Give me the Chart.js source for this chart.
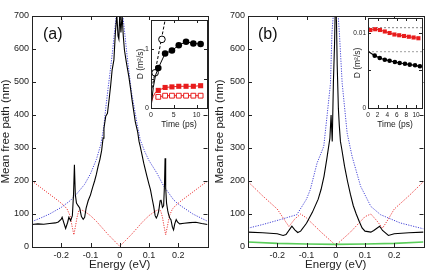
<!DOCTYPE html>
<html lang="en">
  <head>
    <meta charset="UTF-8" />
    <title>Mean free path</title>
    <script src="https://cdn.jsdelivr.net/npm/chart.js@4.4.1/dist/chart.umd.min.js"></script>
    <style>
      body {
        margin: 0;
        background: #fff;
      }

      #wrap {
        position: relative;
        width: 428px;
        height: 274px;
        overflow: hidden;
      }

      canvas {
        position: absolute;
      }

      .tag {
        position: absolute;
        font: 16px "Liberation Sans", Arial, sans-serif;
        color: #111;
      }
    </style>
  </head>

  <body>
    <div id="wrap">
      <canvas id="mainA" width="214" height="274" style="left: 0; top: 0"></canvas>
      <canvas id="mainB" width="214" height="274" style="left: 214px; top: 0"></canvas>
      <canvas id="insetA" width="88" height="122" style="left: 126px; top: 10px"></canvas>
      <canvas id="insetB" width="82" height="124" style="left: 346px; top: 8px"></canvas>
      <div class="tag" style="left: 43px; top: 25px">(a)</div>
      <div class="tag" style="left: 258px; top: 25px">(b)</div>
    </div>

    <script>
      // ---- axes ----
      const energyTicks = [-0.2, -0.1, 0, 0.1, 0.2];
      const energyLabels = ["-0.2", "-0.1", "0", "0.1", "0.2"];
      const mfpTicks = [0, 100, 200, 300, 400, 500, 600, 700];

      // ---- panel (a) ----
      const blackA_E = [-0.3, -0.28, -0.26, -0.24, -0.22, -0.21, -0.2, -0.197, -0.19, -0.185, -0.178, -0.174, -0.168, -0.162, -0.158, -0.155, -0.152, -0.148, -0.143, -0.137, -0.131, -0.125, -0.12, -0.115, -0.108, -0.1, -0.093, -0.086, -0.08, -0.074, -0.068, -0.062, -0.057, -0.054, -0.048, -0.042, -0.036, -0.031, -0.026, -0.02, -0.015, -0.01, -0.006, -0.003, 0, 0.004, 0.008, 0.012, 0.016, 0.023, 0.031, 0.037, 0.042, 0.048, 0.053, 0.061, 0.066, 0.07, 0.076, 0.082, 0.088, 0.093, 0.1, 0.105, 0.11, 0.116, 0.121, 0.125, 0.129, 0.133, 0.138, 0.141, 0.146, 0.15, 0.153, 0.155, 0.157, 0.16, 0.164, 0.167, 0.171, 0.175, 0.18, 0.184, 0.188, 0.193, 0.198, 0.205, 0.22, 0.24, 0.26, 0.28, 0.3];
      const blackA_L = [68, 70, 69, 71, 73, 76, 84, 90, 70, 56, 75, 90, 80, 95, 160, 249, 160, 133, 126, 118, 92, 84, 90, 118, 140, 158, 180, 200, 220, 244, 265, 292, 330, 360, 396, 405, 450, 490, 537, 567, 648, 705, 640, 630, 705, 650, 705, 640, 597, 557, 517, 480, 446, 410, 380, 350, 320, 305, 280, 254, 232, 214, 190, 174, 150, 123, 95, 88, 95, 108, 140, 143, 120, 125, 190, 269, 180, 133, 110, 98, 88, 83, 60, 52, 70, 83, 75, 70, 72, 74, 75, 71, 68];

      const blueA_E = [-0.3, -0.27, -0.24, -0.2, -0.17, -0.15, -0.12, -0.1, -0.08, -0.065, -0.055, -0.048, -0.04, -0.033, -0.025, -0.018, -0.012, -0.008, 0.008, 0.012, 0.018, 0.025, 0.033, 0.04, 0.05, 0.06, 0.07, 0.085, 0.1, 0.127, 0.15, 0.184, 0.2, 0.25, 0.3];
      const blueA_L = [77, 88, 100, 120, 140, 158, 190, 222, 265, 310, 360, 420, 480, 530, 590, 650, 700, 730, 730, 690, 640, 580, 520, 470, 420, 370, 325, 290, 262, 224, 185, 143, 130, 100, 78];

      const redA_E = [-0.3, -0.27, -0.24, -0.21, -0.19, -0.18, -0.17, -0.163, -0.157, -0.152, -0.146, -0.14, -0.13, -0.12, -0.1, -0.08, -0.06, -0.04, -0.02, 0, 0.02, 0.04, 0.06, 0.08, 0.1, 0.12, 0.13, 0.14, 0.146, 0.152, 0.157, 0.163, 0.17, 0.18, 0.19, 0.21, 0.24, 0.27, 0.3];
      const redA_L = [200, 180, 160, 140, 125, 115, 95, 63, 37, 60, 90, 110, 112, 108, 95, 78, 58, 38, 20, 2, 20, 38, 58, 78, 95, 108, 112, 110, 90, 60, 37, 63, 95, 115, 125, 140, 160, 180, 200];

      // ---- panel (b) ----
      const blackB_E = [-0.3, -0.25, -0.2, -0.18, -0.17, -0.15, -0.14, -0.13, -0.12, -0.1, -0.08, -0.06, -0.05, -0.04, -0.03, -0.02, -0.016, -0.012, -0.008, -0.004, -0.002, 0.002, 0.005, 0.009, 0.012, 0.016, 0.02, 0.03, 0.04, 0.05, 0.06, 0.07, 0.08, 0.09, 0.1, 0.12, 0.13, 0.15, 0.16, 0.18, 0.2, 0.25, 0.3];
      const blackB_L = [45, 43, 40, 35, 38, 63, 52, 44, 48, 72, 105, 145, 175, 215, 270, 330, 400, 320, 500, 620, 710, 710, 550, 420, 370, 320, 300, 245, 200, 160, 125, 100, 78, 58, 48, 45, 50, 63, 50, 35, 40, 43, 45];

      const blueB_E = [-0.3, -0.25, -0.19, -0.133, -0.1, -0.087, -0.064, -0.041, -0.03, -0.018, -0.013, -0.007, 0.007, 0.013, 0.022, 0.039, 0.056, 0.085, 0.12, 0.153, 0.22, 0.3];
      const blueB_L = [57, 68, 83, 98, 145, 174, 254, 305, 395, 496, 648, 720, 720, 640, 496, 345, 274, 184, 123, 98, 73, 55];

      const redB_E = [-0.3, -0.25, -0.2, -0.17, -0.16, -0.14, -0.12, -0.1, -0.05, 0, 0.05, 0.1, 0.12, 0.14, 0.16, 0.18, 0.2, 0.25, 0.3];
      const redB_L = [198, 155, 115, 75, 62, 85, 100, 88, 45, 5, 45, 92, 100, 80, 57, 85, 115, 155, 198];

      const greenB_E = [-0.3, -0.2, -0.1, 0, 0.1, 0.2, 0.3];
      const greenB_L = [15, 11, 9, 8, 9, 11, 15];

      // ---- inset (a): D (m^2/s) vs time (ps) ----
      const insetA_xTicks = [0, 5, 10];
      const insetA_yTicks = [0, 0.5, 1];
      const insetA_yLabels = ["0", "", "1"];
      const timeA = [1.6, 3.1, 4.6, 6.1, 7.7, 9.3, 10.9];
      const dBlackA = [0.68, 0.93, 0.98, 1.07, 1.13, 1.1, 1.09];
      const dRedA = [0.3, 0.35, 0.36, 0.37, 0.37, 0.37, 0.38];
      const dRedOpenA = [0.19, 0.21, 0.21, 0.21, 0.21, 0.21, 0.21];
      const riseT_A = [0, 0.5, 1.0, 1.6];
      const riseBlackA = [0, 0.35, 0.56, 0.68];
      const riseRedA = [0.08, 0.2, 0.27, 0.3];
      const openT_A = [0.9, 2.4];
      const openD_A = [0.6, 1.17];
      const ballisticT_A = [0, 3.1];
      const ballisticD_A = [0.25, 1.5];

      // ---- inset (b) ----
      const insetB_xTicks = [0, 2, 4, 6, 8, 10];
      const insetB_yTicks = [0, 0.005, 0.01];
      const insetB_yLabels = ["0", "", "0.01"];
      const timeBlackB = [0, 1.4, 2.45, 3.5, 4.5, 5.6, 6.6, 7.7, 8.7, 9.8, 10.8];
      const dBlackB = [0.00755, 0.00698, 0.00667, 0.00644, 0.0063, 0.00613, 0.006, 0.0059, 0.00578, 0.0057, 0.00556];
      const timeRedB = [0, 0.5, 1.5, 2.5, 3.5, 4.5, 5.5, 6.5, 7.5, 8.5, 9.5, 10.5];
      const dRedB = [0.0102, 0.0104, 0.0105, 0.0104, 0.0102, 0.01, 0.0098, 0.0097, 0.0096, 0.0095, 0.0094, 0.0093];
      const refSpanB = [0, 11.25];
      const refUpperB = [0.0107, 0.0107];
      const refLowerB = [0.0075, 0.0075];

      const FONT = '"Liberation Sans", Arial, sans-serif';
      const INK = "#222";
      const RED = "rgb(232, 28, 28)";

      const pts = (xs, ys) => xs.map((x, i) => ({ x: x, y: ys[i] }));

      // box around the plot + ticks pointing inward on all four sides
      const frameTicks = {
        id: "frameTicks",
        beforeDatasetsDraw(chart, args, opts) {
          if (!opts.fill) return;
          const a = chart.chartArea;
          chart.ctx.fillStyle = "#fff";
          chart.ctx.fillRect(a.left, a.top, a.width, a.height);
        },
        afterDatasetsDraw(chart, args, opts) {
          const { ctx, chartArea: a } = chart;
          const x = chart.scales.x;
          const y = chart.scales.y;
          const L = opts.len;
          ctx.save();
          ctx.strokeStyle = INK;
          ctx.lineWidth = 1;
          ctx.strokeRect(Math.round(a.left) + 0.5, Math.round(a.top) + 0.5, Math.round(a.width), Math.round(a.height));
          ctx.beginPath();
          x.ticks.forEach((t) => {
            const px = Math.round(x.getPixelForValue(t.value)) + 0.5;
            ctx.moveTo(px, a.bottom);
            ctx.lineTo(px, a.bottom - L);
            ctx.moveTo(px, a.top);
            ctx.lineTo(px, a.top + L);
          });
          y.ticks.forEach((t) => {
            const py = Math.round(y.getPixelForValue(t.value)) + 0.5;
            ctx.moveTo(a.left, py);
            ctx.lineTo(a.left + L, py);
            ctx.moveTo(a.right, py);
            ctx.lineTo(a.right - L, py);
          });
          ctx.stroke();
          ctx.restore();
        },
      };

      function makeChart(id, datasets, o) {
        return new Chart(document.getElementById(id), {
          type: "line",
          data: { datasets: datasets },
          options: {
            responsive: false,
            animation: false,
            devicePixelRatio: 1,
            layout: { padding: { top: o.top, right: o.right, left: 0, bottom: 0 } },
            elements: { point: { radius: 0 }, line: { tension: 0 } },
            plugins: {
              legend: { display: false },
              tooltip: { enabled: false },
              frameTicks: { len: o.tickLen, fill: o.fill },
            },
            scales: {
              x: {
                type: "linear",
                min: o.xMin,
                max: o.xMax,
                afterBuildTicks: (s) => {
                  s.ticks = o.xTicks.map((v) => ({ value: v }));
                },
                afterFit: (s) => {
                  s.height = o.xHeight;
                },
                grid: { display: false, drawTicks: false },
                border: { display: false },
                ticks: {
                  callback: (v, i) => o.xLabels[i],
                  font: { family: FONT, size: o.tickSize },
                  color: INK,
                  padding: o.xTickPad,
                  autoSkip: false,
                  maxRotation: 0,
                },
                title: {
                  display: true,
                  text: o.xTitle,
                  font: { family: FONT, size: o.titleSize, lineHeight: 1 },
                  color: INK,
                  padding: { top: 0, bottom: o.xTitlePad },
                },
              },
              y: {
                min: o.yMin,
                max: o.yMax,
                afterBuildTicks: (s) => {
                  s.ticks = o.yTicks.map((v) => ({ value: v }));
                },
                afterFit: (s) => {
                  s.width = o.yWidth;
                },
                grid: { display: false, drawTicks: false },
                border: { display: false },
                ticks: {
                  callback: (v, i) => o.yLabels[i],
                  font: { family: FONT, size: o.tickSize },
                  color: INK,
                  padding: o.yTickPad,
                  autoSkip: false,
                },
                title: {
                  display: true,
                  text: o.yTitle,
                  font: { family: FONT, size: o.titleSize, lineHeight: 1 },
                  color: INK,
                  padding: { top: o.yTitlePad, bottom: 0 },
                },
              },
            },
          },
          plugins: [frameTicks],
        });
      }

      const solid = (data, color, w) => ({ data: data, borderColor: color, borderWidth: w, pointRadius: 0 });
      const dotted = (data, color) => ({ data: data, borderColor: color, borderWidth: 1, borderDash: [1.2, 1.3], pointRadius: 0 });

      const mainOpts = {
        top: 16, xMin: -0.3, xMax: 0.3, xTicks: energyTicks, xLabels: energyLabels,
        yMin: 0, yMax: 700, yTicks: mfpTicks, yLabels: mfpTicks.map(String),
        xHeight: 27, tickSize: 9, titleSize: 11.5, xTickPad: 3, xTitlePad: 3, yTickPad: 3, yTitlePad: 0,
        xTitle: "Energy (eV)", yTitle: "Mean free path (nm)", tickLen: 4, fill: false,
      };

      makeChart(
        "mainA",
        [
          solid(pts(blackA_E, blackA_L), "#000", 1.1),
          dotted(pts(blueA_E, blueA_L), "rgb(70, 70, 215)"),
          dotted(pts(redA_E, redA_L), "rgb(235, 60, 60)"),
        ],
        Object.assign({}, mainOpts, { right: 6.5, yWidth: 32 })
      );

      makeChart(
        "mainB",
        [
          solid(pts(blackB_E, blackB_L), "#000", 1.1),
          solid(pts(greenB_E, greenB_L), "rgb(90, 205, 90)", 1.6),
          dotted(pts(blueB_E, blueB_L), "rgb(70, 70, 215)"),
          dotted(pts(redB_E, redB_L), "rgb(235, 60, 60)"),
        ],
        Object.assign({}, mainOpts, { right: 4.5, yWidth: 34 })
      );

      const insetBase = {
        tickSize: 7, titleSize: 8.5, xTickPad: 3, yTickPad: 2, tickLen: 3, fill: true,
        xTitle: "Time (ps)", yTitle: "D (m\u00b2/s)", xHeight: 24,
      };

      makeChart(
        "insetA",
        [
          Object.assign(solid(pts(timeA, dBlackA), "#000", 1), { pointRadius: 3.3, pointBackgroundColor: "#000", pointBorderWidth: 0 }),
          solid(pts(riseT_A, riseBlackA), "#000", 1),
          { data: pts(openT_A, openD_A), showLine: false, pointRadius: 3.3, pointBackgroundColor: "#fff", pointBorderColor: "#000", pointBorderWidth: 1 },
          { data: pts(ballisticT_A, ballisticD_A), borderColor: "#000", borderWidth: 1, borderDash: [3, 2], pointRadius: 0 },
          Object.assign(solid(pts(timeA, dRedA), RED, 1), { pointStyle: "rect", pointRadius: 3.6, pointBackgroundColor: RED, pointBorderWidth: 0 }),
          Object.assign(solid(pts(timeA, dRedOpenA), RED, 1), { pointStyle: "rect", pointRadius: 3.4, pointBackgroundColor: "#fff", pointBorderColor: RED, pointBorderWidth: 1 }),
          solid(pts(riseT_A, riseRedA), RED, 1),
        ],
        Object.assign({}, insetBase, {
          top: 10, right: 7, xMin: 0, xMax: 12.3, xTicks: insetA_xTicks, xLabels: insetA_xTicks.map(String),
          yMin: 0, yMax: 1.5, yTicks: insetA_yTicks, yLabels: insetA_yLabels,
          yWidth: 25, xTitlePad: 3.5, yTitlePad: 10,
        })
      );

      makeChart(
        "insetB",
        [
          Object.assign(solid(pts(timeBlackB, dBlackB), "#000", 1.2), { pointRadius: (c) => (c.dataIndex === 0 ? 0 : 2.3), pointBackgroundColor: "#000", pointBorderWidth: 0 }),
          Object.assign(solid(pts(timeRedB, dRedB), RED, 1.2), { pointStyle: "rect", pointRadius: (c) => (c.dataIndex === 0 ? 0 : 2.9), pointBackgroundColor: RED, pointBorderWidth: 0 }),
          { data: pts(refSpanB, refUpperB), borderColor: "#666", borderWidth: 0.8, borderDash: [2, 2], pointRadius: 0 },
          { data: pts(refSpanB, refLowerB), borderColor: "#888", borderWidth: 0.8, borderDash: [2, 2], pointRadius: 0 },
        ],
        Object.assign({}, insetBase, {
          top: 10, right: 6, xMin: 0, xMax: 11.25, xTicks: insetB_xTicks, xLabels: insetB_xTicks.map(String),
          yMin: 0, yMax: 0.012, yTicks: insetB_yTicks, yLabels: insetB_yLabels,
          yWidth: 22, xTitlePad: 3, yTitlePad: 7, tickSize: 6.5,
        })
      );
    </script>
  </body>
</html>
